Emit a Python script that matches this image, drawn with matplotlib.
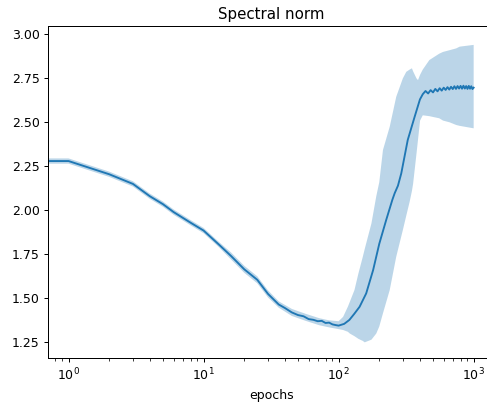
import matplotlib
matplotlib.use("Agg")
import matplotlib.pyplot as plt

# mean spectral norm per epoch
epochs = [0, 1, 2, 3, 4, 5, 6, 8, 10, 13, 16, 20, 25, 30, 36, 40, 45, 50, 55, 60,
          65, 70, 75, 80, 85, 90, 95, 100, 110, 120, 130, 143, 160, 180, 200, 225,
          250, 260, 275, 291, 325, 365, 400, 420,
          440, 460, 480, 500, 520, 540, 560, 580, 600, 620, 640, 660, 680, 700,
          720, 740, 760, 780, 800, 820, 840, 860, 880, 900, 920, 940, 960, 980,
          1000]
mean_norm = [2.28, 2.28, 2.205, 2.15, 2.08, 2.035, 1.99, 1.93, 1.885, 1.805, 1.74,
             1.665, 1.605, 1.525, 1.465, 1.445, 1.42, 1.405, 1.398, 1.382,
             1.378, 1.37, 1.372, 1.36, 1.362, 1.352, 1.348, 1.345, 1.355, 1.377,
             1.41, 1.452, 1.528, 1.66, 1.81, 1.945, 2.06, 2.097, 2.14, 2.21, 2.40,
             2.53, 2.63, 2.66,
             2.678, 2.664, 2.683, 2.670, 2.690, 2.676, 2.694, 2.680, 2.697, 2.684,
             2.700, 2.686, 2.702, 2.689, 2.705, 2.690, 2.706, 2.692, 2.707, 2.691,
             2.708, 2.692, 2.706, 2.690, 2.707, 2.691, 2.705, 2.689, 2.697]

# spread of the runs around the mean
band_epochs = [0, 1, 2, 3, 4, 5, 6, 8, 10, 13, 16, 20, 25, 30, 36, 45, 57, 72, 85,
               100, 108, 117, 121, 131, 140, 151, 156, 175, 190, 200, 213, 239,
               267, 299, 317, 336, 349, 356, 377, 387, 401, 420, 470, 556, 593,
               664, 742, 788, 1000]
band_low = [2.265, 2.265, 2.19, 2.135, 2.065, 2.02, 1.975, 1.915, 1.87, 1.79, 1.72,
            1.645, 1.585, 1.505, 1.447, 1.40, 1.372, 1.347, 1.335,
            1.325, 1.32, 1.31, 1.30, 1.285, 1.27, 1.258, 1.25, 1.265, 1.30, 1.34,
            1.415, 1.547, 1.736, 1.888, 1.97, 2.05, 2.11, 2.15, 2.32, 2.40,
            2.51, 2.54, 2.535, 2.523, 2.51, 2.50, 2.485, 2.48, 2.466]
band_high = [2.295, 2.295, 2.22, 2.165, 2.095, 2.05, 2.005, 1.945, 1.90, 1.82, 1.76,
             1.685, 1.625, 1.545, 1.483, 1.44, 1.412, 1.387, 1.375,
             1.37, 1.395, 1.452, 1.48, 1.547, 1.64, 1.736, 1.78, 1.926, 2.08, 2.16,
             2.343, 2.475, 2.645, 2.75, 2.787, 2.80, 2.807, 2.79, 2.75, 2.74,
             2.77, 2.80, 2.854, 2.89, 2.90, 2.91, 2.92, 2.93, 2.94]

DPI = 90
fig = plt.figure(figsize=(487 / DPI, 404 / DPI), dpi=DPI)
ax = fig.add_axes([0.0992, 0.113, 0.915, 0.8225])

ax.fill_between(band_epochs, band_low, band_high, color="C0", alpha=0.3, linewidth=0)
ax.plot(epochs, mean_norm, color="C0", linewidth=1.5)

ax.set_xscale("log")
ax.set_ylim(1.159, 3.047)
ax.set_yticks([1.25, 1.50, 1.75, 2.00, 2.25, 2.50, 2.75, 3.00])
ax.set_xlabel("epochs")
ax.set_title("Spectral norm")

fig.savefig("out.png", dpi=DPI)
